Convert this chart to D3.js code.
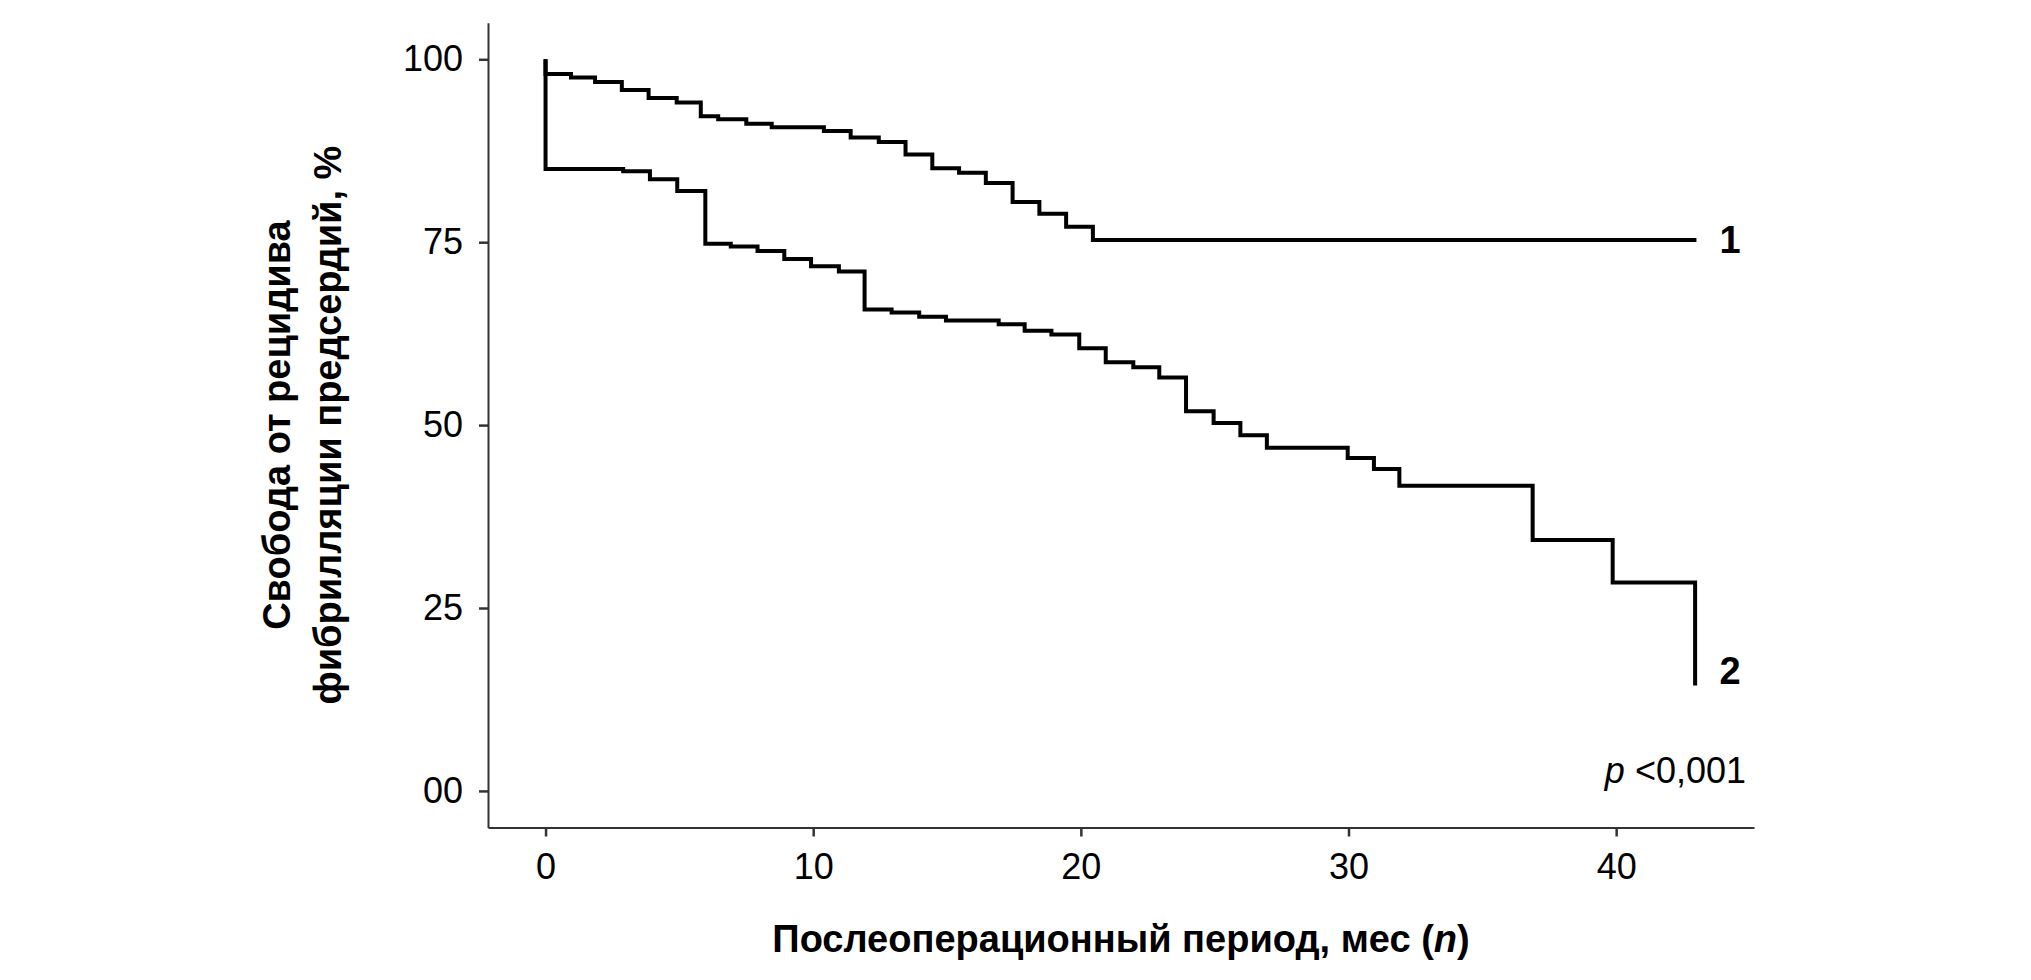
<!DOCTYPE html>
<html>
<head>
<meta charset="utf-8">
<script src="https://cdn.jsdelivr.net/npm/d3@7"></script>
<style>
  html, body { margin: 0; padding: 0; background: #fff; }
  svg { display: block; }
  text { font-family: "Liberation Sans", Arial, Helvetica, sans-serif; fill: #000; }
</style>
</head>
<body>
<svg id="chart" width="2031" height="980"></svg>
<script>
// ---- Data ----
const group1Time = [0, 0, 0.95, 1.85, 2.85, 3.85, 4.9, 5.8, 6.45, 7.5, 8.45, 10.4, 11.4, 12.45, 13.45, 14.45, 15.45, 16.45, 17.45, 18.45, 19.45, 20.45, 43];
const group1Surv = [100, 98, 97.5, 96.9, 95.8, 94.7, 94.1, 92.2, 91.8, 91.2, 90.7, 90.2, 89.3, 88.7, 87.0, 85.1, 84.5, 83.1, 80.5, 78.9, 77.1, 75.3, 75.3];

const group2Time = [0, 0, 2.9, 3.9, 4.92, 5.97, 6.92, 7.92, 8.92, 9.92, 10.96, 11.92, 12.93, 13.96, 14.96, 16.93, 17.9, 18.9, 19.94, 20.93, 21.96, 22.93, 23.93, 24.96, 25.96, 26.95, 29.97, 30.95, 31.9, 36.88, 39.87, 42.95];
const group2Surv = [100, 85, 84.7, 83.6, 82.0, 74.8, 74.4, 73.8, 72.7, 71.7, 71.0, 65.8, 65.4, 64.8, 64.3, 63.8, 62.9, 62.4, 60.5, 58.6, 57.9, 56.5, 51.9, 50.3, 48.6, 46.9, 45.5, 44.0, 41.7, 34.3, 28.5, 14.4];

const seriesLabels = ["1", "2"];
const xTicks = [0, 10, 20, 30, 40];
const xTickLabels = ["0", "10", "20", "30", "40"];
const yTicks = [0, 25, 50, 75, 100];
const yTickLabels = ["00", "25", "50", "75", "100"];
const xTitle = "Послеоперационный период, мес (";
const xTitleItalic = "n";
const yTitleLines = ["Свобода от рецидива", "фибрилляции предсердий, %"];
const pLabelItalic = "p";
const pLabelRest = " <0,001";

// ---- Layout ----
const svg = d3.select("#chart");
svg.append("rect").attr("width", 2031).attr("height", 980).attr("fill", "#fff");

const x = d3.scaleLinear().domain([-2.15, 45.15]).range([488, 1754]);
const y = d3.scaleLinear().domain([-5, 105]).range([827.5, 22.7]);

// Axes
const yAxis = d3.axisLeft(y).tickValues(yTicks)
  .tickFormat((d, i) => yTickLabels[i]).tickSizeInner(9).tickSizeOuter(0).tickPadding(16);
const gy = svg.append("g").attr("transform", `translate(${x.range()[0]},0)`).call(yAxis);

const xAxis = d3.axisBottom(x).tickValues(xTicks)
  .tickFormat((d, i) => xTickLabels[i]).tickSizeInner(9).tickSizeOuter(0).tickPadding(16.5);
const gx = svg.append("g").attr("transform", `translate(0,${y.range()[0]})`).call(xAxis);

[gx, gy].forEach(g => {
  g.select(".domain").attr("stroke", "#333").attr("stroke-width", 2);
  g.selectAll(".tick line").attr("stroke", "#333").attr("stroke-width", 2.5);
  g.selectAll(".tick text").attr("font-size", 36).attr("fill", "#000")
    .style("font-family", '"Liberation Sans", Arial, Helvetica, sans-serif');
});

// Curves
const line = d3.line().x(d => x(d[0])).y(d => y(d[1])).curve(d3.curveStepAfter);
const s1 = group1Time.map((t, i) => [t, group1Surv[i]]);
const s2 = group2Time.map((t, i) => [t, group2Surv[i]]);
[s1, s2].forEach(s => {
  svg.append("path").datum(s).attr("d", line)
    .attr("fill", "none").attr("stroke", "#000").attr("stroke-width", 4)
    .attr("stroke-linejoin", "miter");
});

// Series labels
svg.append("text").attr("x", x(43) + 23).attr("y", y(s1[s1.length - 1][1]) + 13)
  .attr("font-size", 38).attr("font-weight", "bold").text(seriesLabels[0]);
svg.append("text").attr("x", x(43) + 23).attr("y", y(s2[s2.length - 1][1]) - 2)
  .attr("font-size", 38).attr("font-weight", "bold").text(seriesLabels[1]);

// p-value
const pt = svg.append("text").attr("x", 1746).attr("y", 783).attr("text-anchor", "end").attr("font-size", 36);
pt.append("tspan").attr("font-style", "italic").text(pLabelItalic);
pt.append("tspan").text(pLabelRest);

// X title
const xt = svg.append("text").attr("x", (x.range()[0] + x.range()[1]) / 2).attr("y", 951.5)
  .attr("text-anchor", "middle").attr("font-size", 38).attr("font-weight", "bold");
xt.append("tspan").text(xTitle);
xt.append("tspan").attr("font-style", "italic").text(xTitleItalic);
xt.append("tspan").text(")");

// Y title (two lines, rotated)
const yc = (y.range()[0] + y.range()[1]) / 2;
const yt = svg.append("text").attr("transform", `translate(290,${yc}) rotate(-90)`)
  .attr("text-anchor", "middle").attr("font-size", 38).attr("font-weight", "bold");
yt.append("tspan").attr("x", 0).attr("y", 0).text(yTitleLines[0]);
yt.append("tspan").attr("x", 0).attr("y", 51).text(yTitleLines[1]);
</script>
</body>
</html>
